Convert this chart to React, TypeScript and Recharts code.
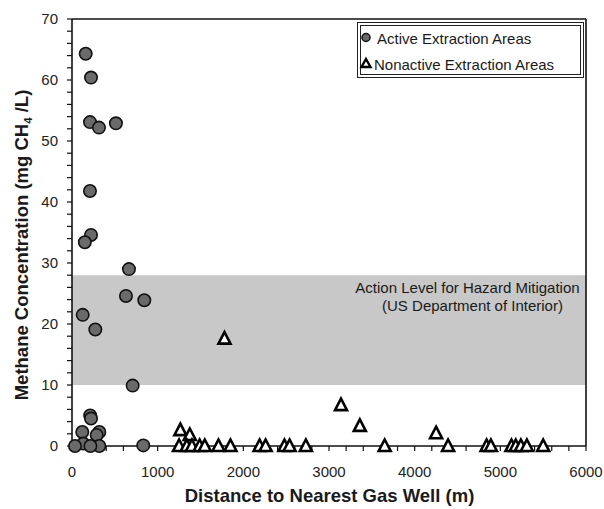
import React from 'react'
import {
  ScatterChart, Scatter, XAxis, YAxis, ReferenceArea, ReferenceLine,
} from 'recharts'

// ─── Data ────────────────────────────────────────────────────────────────────
const ACTIVE_DIST = [160, 222, 210, 315, 513, 210, 222, 150, 665, 630, 844, 125, 272, 708, 212, 222, 120, 319, 288, 132, 35, 319, 832, 215]
const ACTIVE_CH4 = [64.3, 60.4, 53.1, 52.2, 52.9, 41.8, 34.6, 33.4, 29.0, 24.6, 23.9, 21.5, 19.1, 9.9, 5.0, 4.5, 2.3, 2.3, 1.8, 0.4, 0, 0, 0.1, 0]

const NONACTIVE_DIST = [1780, 3140, 3360, 4250, 1265, 1375, 1250, 1340, 1400, 1490, 1550, 1710, 1850, 2190, 2260, 2480, 2540, 2730, 3650, 4390, 4840, 4890, 5130, 5180, 5240, 5310, 5500]
const NONACTIVE_CH4 = [17.6, 6.7, 3.3, 2.1, 2.6, 1.8, 0, 0, 0, 0, 0, 0, 0, 0, 0, 0, 0, 0, 0, 0, 0, 0, 0, 0, 0, 0, 0]

const X_LABELS = [0, 1000, 2000, 3000, 4000, 5000, 6000]
const Y_LABELS = [0, 10, 20, 30, 40, 50, 60, 70]
const X_TICKS = Array.from({ length: 31 }, (_, i) => i * 200)
const Y_TICKS = Array.from({ length: 36 }, (_, i) => i * 2)

const ACTION_LOW = 10
const ACTION_HIGH = 28

const active = ACTIVE_DIST.map((x, i) => ({ x, y: ACTIVE_CH4[i] }))
const nonactive = NONACTIVE_DIST.map((x, i) => ({ x, y: NONACTIVE_CH4[i] }))

const FONT = '"Liberation Sans", Arial, sans-serif'
const tickStyle = { fill: '#222', fontSize: 15, fontFamily: FONT }

function Dot({ cx, cy }: any) {
  return <circle cx={cx} cy={cy} r={6.2} fill="#6a6a6a" stroke="#111" strokeWidth={1.6} />
}

function Tri({ cx, cy }: any) {
  return (
    <path
      d={`M${cx},${cy - 6.5} L${cx + 6},${cy + 5} L${cx - 6},${cy + 5} Z`}
      fill="#fff"
      stroke="#000"
      strokeWidth={2.6}
      strokeLinejoin="miter"
    />
  )
}

const abs = (left: number, top: number, extra: any = {}) => ({
  position: 'absolute' as const,
  left,
  top,
  transform: 'translate(-50%, -50%)',
  whiteSpace: 'nowrap' as const,
  lineHeight: 1,
  fontFamily: FONT,
  color: '#1a1a1a',
  pointerEvents: 'none' as const,
  ...extra,
})

export default function App() {
  return (
    <div style={{ position: 'absolute', left: 0, top: 0, width: 604, height: 509, background: '#fff' }}>
      <ScatterChart width={604} height={509} margin={{ top: 19, right: 18, bottom: 23, left: 12 }}>
        <XAxis
          type="number"
          dataKey="x"
          domain={[0, 6000]}
          ticks={X_TICKS}
          interval={0}
          tickFormatter={v => (X_LABELS.includes(v) ? String(v) : '')}
          height={40}
          tick={tickStyle}
          tickSize={5}
          tickMargin={15}
          axisLine={{ stroke: '#111', strokeWidth: 1.6 }}
          tickLine={{ stroke: '#111', strokeWidth: 1.2 }}
        />
        <YAxis
          type="number"
          dataKey="y"
          domain={[0, 70]}
          ticks={Y_TICKS}
          interval={0}
          tickFormatter={v => (Y_LABELS.includes(v) ? String(v) : '')}
          width={60}
          tick={tickStyle}
          tickSize={5}
          tickMargin={9}
          axisLine={{ stroke: '#111', strokeWidth: 1.6 }}
          tickLine={{ stroke: '#111', strokeWidth: 1.2 }}
        />
        <ReferenceArea x1={0} x2={6000} y1={ACTION_LOW} y2={ACTION_HIGH} fill="#c8c8c8" fillOpacity={1} stroke="none" />
        <ReferenceLine y={70} stroke="#111" strokeWidth={1.6} />
        <ReferenceLine x={6000} stroke="#111" strokeWidth={1.6} />
        <Scatter data={active} shape={Dot} isAnimationActive={false} />
        <Scatter data={nonactive} shape={Tri} isAnimationActive={false} />
      </ScatterChart>

      {/* band annotation */}
      <div style={abs(467.5, 287, { fontSize: 15 })}>Action Level for Hazard Mitigation</div>
      <div style={abs(472.5, 305, { fontSize: 15 })}>(US Department of Interior)</div>

      {/* legend */}
      <div
        style={{
          position: 'absolute', left: 357, top: 22, width: 227, height: 56,
          boxSizing: 'border-box', border: '4px double #222', background: '#fff',
        }}
      />
      <svg style={{ position: 'absolute', left: 357, top: 22 }} width={227} height={56}>
        <circle cx={9} cy={15.5} r={4} fill="#6a6a6a" stroke="#111" strokeWidth={1.5} />
        <path d="M9,37 L13.5,45 L4.5,45 Z" fill="#fff" stroke="#000" strokeWidth={2.4} />
      </svg>
      <div style={{ ...abs(377, 37.5, { fontSize: 15 }), transform: 'translate(0, -50%)' }}>Active Extraction Areas</div>
      <div style={{ ...abs(374, 63.5, { fontSize: 15 }), transform: 'translate(0, -50%)' }}>Nonactive Extraction Areas</div>

      {/* axis titles */}
      <div style={abs(329.5, 496, { fontSize: 18.5, fontWeight: 700 })}>Distance to Nearest Gas Well (m)</div>
      <div style={abs(22, 245, { fontSize: 18.5, fontWeight: 700, transform: 'translate(-50%, -50%) rotate(-90deg)' })}>
        Methane Concentration (mg CH<sub style={{ fontSize: '0.62em', lineHeight: 0 }}>4</sub> /L)
      </div>
    </div>
  )
}
